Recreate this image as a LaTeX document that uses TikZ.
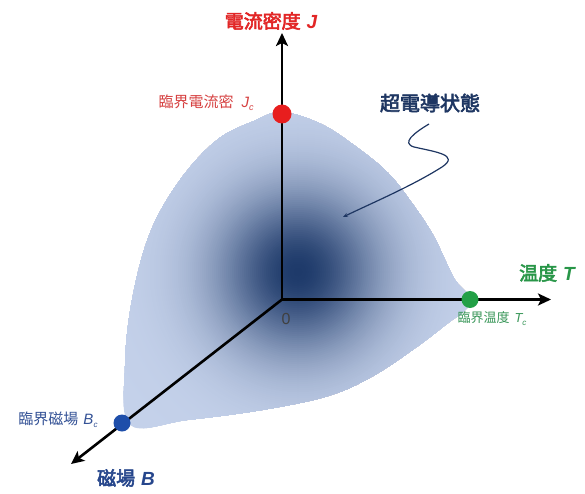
\documentclass[tikz,border=0pt]{standalone}
\usepackage{fontspec}
\setmainfont{Liberation Sans}
\newfontfamily\lat{Liberation Sans}
\newfontfamily\jp{Noto Sans CJK JP}
\newfontfamily\jpb{Noto Sans CJK JP}[FakeBold=3]
\usetikzlibrary{arrows.meta}
\definecolor{scA}{RGB}{30,58,106}
\definecolor{scE}{RGB}{196,209,234}
\definecolor{jred}{RGB}{226,38,38}
\definecolor{jredl}{RGB}{214,64,64}
\definecolor{tgreen}{RGB}{40,150,72}
\definecolor{tgreenl}{RGB}{56,150,88}
\definecolor{bblue}{RGB}{38,70,140}
\definecolor{bbluel}{RGB}{52,82,150}
\definecolor{navy}{RGB}{30,54,98}
\definecolor{dotred}{RGB}{232,30,30}
\definecolor{dotgreen}{RGB}{34,160,70}
\definecolor{dotblue}{RGB}{30,78,170}
\begin{document}
\begin{tikzpicture}[x=1pt,y=-1pt,
  axisline/.style={line width=2.6pt,-{Stealth[length=13pt,width=12pt,inset=3pt]}},
  dotnode/.style={circle,inner sep=0pt,minimum size=17pt},
  lbl/.style={inner sep=0pt,anchor=center},
  bigtitle/.style={lbl,font=\fontsize{19}{22}\selectfont},
  pointer/.style={draw=navy,line width=1.2pt,-{Stealth[length=5pt,width=4pt]}}]
\useasboundingbox (0,0) rectangle (585,494);
\fill[white] (0,0) rectangle (585,494);
% superconducting region
\begin{scope}
\clip plot[smooth cycle,tension=0.6] coordinates {(282,112) (321,124) (355,146) (388,173) (414,206) (433,235) (446,262) (455,280) (466,292) (473,300) (462,313) (448,323) (418,346) (373,376) (328,396) (262,410) (187,420) (130,425) (125,366) (132,300) (150,233) (180,180) (217,140) (254,121)};
\fill[scE] (0,0) rectangle (585,494);
\foreach \r in {220,218,...,2}{
  \pgfmathsetmacro\p{100*exp(-(\r/84)^2)}
  \fill[scA!\p!scE] (298,272) circle (\r);
}
\end{scope}
% axes
\coordinate (O) at (282,299.5);
\coordinate (Jtip) at (282,33);
\coordinate (Ttip) at (551,299.5);
\coordinate (Btip) at (71,464);
\draw[axisline] (O) -- (Jtip);
\draw[axisline] (O) -- (Ttip);
\draw[axisline] (O) -- (Btip);
% critical points
\node[dotnode,fill=dotred,minimum height=19pt] (Jc) at (282,114) {};
\node[dotnode,fill=dotgreen] (Tc) at (470,299.5) {};
\node[dotnode,fill=dotblue] (Bc) at (122,423) {};
% labels
\node[bigtitle,text=jred] (Jlab) at (271,21) {\jpb 電流密度\hspace{6pt}{\lat\bfseries\itshape J}};
\node[lbl,text=jredl,font=\fontsize{15}{18}\selectfont] (Jclab) at (206,103) {\jp 臨界電流密\hspace{8pt}{\lat\itshape J\raisebox{-3pt}{\fontsize{9}{10}\selectfont c}}};
\node[lbl,text=navy,font=\fontsize{20}{23}\selectfont] (sc) at (430,103) {\jpb 超電導状態};
\node[bigtitle,text=tgreen] (Tlab) at (547,273) {\jpb 温度\hspace{6pt}{\lat\bfseries\itshape T}};
\node[lbl,text=tgreenl,font=\fontsize{13}{16}\selectfont] (Tclab) at (492,319) {\jp 臨界温度\hspace{5pt}{\lat\itshape T\raisebox{-3pt}{\fontsize{8}{9}\selectfont c}}};
\node[lbl,text=black!75,font=\fontsize{16}{19}\selectfont] (zero) at (286,319) {\lat 0};
\node[lbl,text=bbluel,font=\fontsize{15}{18}\selectfont] (Bclab) at (58,420) {\jp 臨界磁場\hspace{5pt}{\lat\itshape B\raisebox{-3pt}{\fontsize{8}{9}\selectfont c}}};
\node[bigtitle,text=bblue] (Blab) at (126,478) {\jpb 磁場\hspace{6pt}{\lat\bfseries\itshape B}};
% pointer from label into the region
\coordinate (sqA) at (429,124);
\coordinate (sqE) at (343,217);
\draw[pointer] (sqA) .. controls (414,133) and (401,143) .. (414,147) .. controls (436,152) and (460,155) .. (442,167) .. controls (412,186) and (372,203) .. (sqE);
\end{tikzpicture}
\end{document}
